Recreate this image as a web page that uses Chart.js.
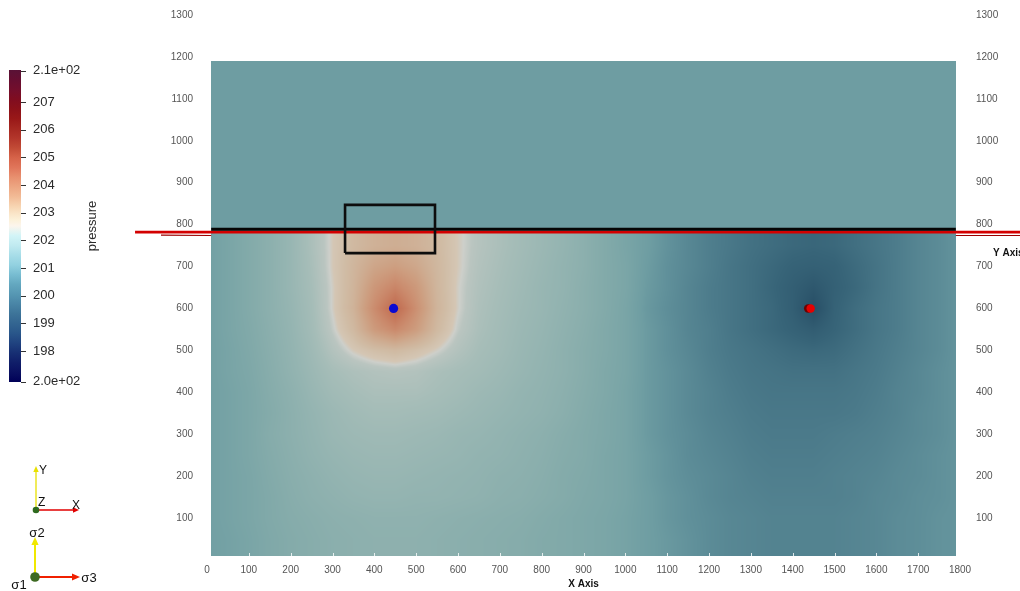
<!DOCTYPE html>
<html>
<head>
<meta charset="utf-8">
<script src="https://cdn.jsdelivr.net/npm/chart.js@4.4.1/dist/chart.umd.min.js"></script>
<style>
  html, body { margin: 0; padding: 0; background: #ffffff; overflow: hidden; }
  #wrap { width: 1020px; height: 591px; position: relative; }
</style>
</head>
<body>
<div id="wrap"><canvas id="c" width="1020" height="591"></canvas></div>
<script>
// ---- axis ticks ----
const xTickValues = [0,100,200,300,400,500,600,700,800,900,1000,1100,1200,1300,1400,1500,1600,1700,1800];
const yTickValues = [0,100,200,300,400,500,600,700,800,900,1000,1100,1200,1300];

// ---- model geometry ----
const domainX = [10, 1790];
const domainY = [10, 1190];
const interfaceY = 789;            // top of the reservoir layer
const upperPressure = 200.3;       // caprock layer pressure

// pressure grid of the reservoir layer (rows bottom -> top)
const gridX = [0,50,100,150,200,250,300,350,400,450,500,550,600,650,700,750,800,850,900,950,1000,
               1050,1100,1150,1200,1250,1300,1350,1400,1450,1500,1550,1600,1650,1700,1750,1800];
const gridY = [0,50,100,150,200,250,300,350,400,450,500,550,600,650,700,750,800];
const pressureY0   = [200.4,200.5,200.65,200.85,201.0,201.1,201.2,201.25,201.3,201.3,201.3,201.25,201.2,201.15,201.1,201.05,200.95,200.9,200.8,200.7,200.55, 200.35,200.2,200.05,199.9,199.8,199.75,199.7,199.7,199.7,199.7,199.75,199.8,199.9,199.95,200.05,200.1];
const pressureY50  = [200.4,200.5,200.65,200.85,201.0,201.1,201.2,201.25,201.3,201.3,201.3,201.25,201.2,201.15,201.1,201.05,200.95,200.9,200.8,200.7,200.55, 200.35,200.2,200.05,199.9,199.8,199.75,199.7,199.7,199.7,199.7,199.75,199.8,199.9,199.95,200.05,200.1];
const pressureY100 = [200.4,200.55,200.7,200.9,201.05,201.15,201.25,201.3,201.35,201.35,201.35,201.3,201.25,201.2,201.15,201.1,201.0,200.9,200.8,200.7,200.55, 200.35,200.15,200.0,199.9,199.8,199.75,199.7,199.7,199.7,199.7,199.75,199.8,199.9,199.95,200.05,200.1];
const pressureY150 = [200.4,200.55,200.7,200.9,201.1,201.25,201.35,201.45,201.5,201.5,201.45,201.45,201.4,201.35,201.25,201.2,201.1,201.0,200.85,200.75,200.6, 200.35,200.15,200.0,199.85,199.75,199.7,199.65,199.65,199.65,199.65,199.7,199.8,199.85,199.95,200.0,200.1];
const pressureY200 = [200.4,200.55,200.7,200.95,201.15,201.3,201.45,201.55,201.6,201.6,201.55,201.5,201.45,201.4,201.3,201.25,201.15,201.0,200.9,200.75,200.6, 200.3,200.1,199.95,199.85,199.75,199.65,199.6,199.6,199.6,199.65,199.7,199.75,199.85,199.9,200.0,200.1];
const pressureY250 = [200.4,200.55,200.75,201.0,201.2,201.4,201.55,201.65,201.7,201.7,201.65,201.6,201.55,201.45,201.4,201.3,201.2,201.05,200.95,200.75,200.6, 200.3,200.1,199.9,199.8,199.7,199.6,199.55,199.55,199.55,199.6,199.65,199.7,199.8,199.9,200.0,200.1];
const pressureY300 = [200.4,200.55,200.75,201.05,201.25,201.45,201.65,201.75,201.8,201.8,201.75,201.7,201.6,201.55,201.45,201.35,201.25,201.1,200.95,200.8,200.6, 200.25,200.05,199.9,199.75,199.65,199.55,199.5,199.5,199.5,199.55,199.6,199.65,199.75,199.85,199.95,200.1];
const pressureY350 = [200.4,200.55,200.75,201.0,201.25,201.5,201.7,201.85,201.95,201.95,201.9,201.85,201.75,201.65,201.55,201.45,201.35,201.2,201.0,200.8,200.6, 200.25,200.05,199.85,199.7,199.6,199.5,199.45,199.45,199.45,199.45,199.5,199.6,199.7,199.85,199.95,200.1];
const pressureY400 = [200.4,200.55,200.75,201.05,201.3,201.6,201.85,202.0,202.1,202.1,202.1,202.0,201.9,201.75,201.65,201.5,201.4,201.25,201.05,200.85,200.6, 200.25,200.05,199.85,199.7,199.55,199.45,199.4,199.4,199.4,199.4,199.45,199.55,199.7,199.8,199.95,200.1];
const pressureY450 = [200.4,200.6,200.8,201.1,201.4,201.7,202.0,202.15,202.25,202.3,202.25,202.1,202.0,201.9,201.75,201.6,201.45,201.3,201.1,200.85,200.65, 200.25,200.05,199.85,199.65,199.5,199.4,199.35,199.3,199.3,199.3,199.4,199.5,199.65,199.8,199.95,200.1];
const pressureY500 = [200.4,200.6,200.85,201.15,201.45,201.8,202.25,202.6,202.85,203.0,202.8,202.55,202.25,202.0,201.85,201.65,201.5,201.3,201.1,200.9,200.65, 200.25,200.0,199.8,199.6,199.45,199.35,199.25,199.15,199.1,199.15,199.3,199.45,199.6,199.75,199.9,200.1];
const pressureY550 = [200.4,200.65,200.9,201.2,201.5,201.9,202.45,203.0,203.9,204.4,203.85,203.0,202.45,202.1,201.9,201.7,201.55,201.35,201.15,200.9,200.65, 200.25,200.0,199.75,199.6,199.4,199.25,199.1,198.95,198.8,199.0,199.2,199.4,199.55,199.75,199.9,200.1];
const pressureY600 = [200.4,200.65,200.95,201.25,201.55,201.95,202.55,203.2,204.3,205.3,204.2,203.15,202.55,202.15,201.95,201.75,201.6,201.4,201.2,200.95,200.65, 200.2,199.95,199.75,199.55,199.4,199.25,199.1,198.85,198.4,198.95,199.2,199.4,199.55,199.75,199.9,200.1];
const pressureY650 = [200.4,200.65,200.95,201.25,201.6,202.0,202.55,203.15,204.0,204.5,203.95,203.1,202.55,202.2,202.0,201.8,201.6,201.45,201.2,200.95,200.7, 200.25,200.0,199.75,199.55,199.4,199.25,199.05,198.85,198.65,198.9,199.1,199.35,199.55,199.75,199.9,200.1];
const pressureY700 = [200.4,200.65,200.95,201.25,201.6,202.05,202.6,203.1,203.6,203.8,203.55,203.05,202.6,202.25,202.05,201.85,201.65,201.45,201.25,200.95,200.7, 200.3,200.0,199.8,199.6,199.4,199.25,199.1,198.95,198.9,198.95,199.15,199.35,199.55,199.75,199.9,200.1];
const pressureY750 = [200.4,200.65,200.95,201.25,201.6,202.1,202.6,203.0,203.25,203.35,203.25,203.0,202.6,202.3,202.1,201.9,201.7,201.5,201.25,200.95,200.65, 200.35,200.05,199.8,199.6,199.45,199.3,199.2,199.1,199.05,199.1,199.25,199.4,199.55,199.75,199.9,200.1];
const pressureY800 = [200.4,200.65,200.95,201.25,201.6,202.1,202.6,203.0,203.25,203.35,203.25,203.0,202.6,202.3,202.1,201.9,201.7,201.5,201.25,200.95,200.65, 200.35,200.05,199.8,199.6,199.45,199.3,199.2,199.1,199.05,199.1,199.25,199.4,199.55,199.75,199.9,200.1];
const pressureRows = [pressureY0,pressureY50,pressureY100,pressureY150,pressureY200,pressureY250,pressureY300,pressureY350,
                      pressureY400,pressureY450,pressureY500,pressureY550,pressureY600,pressureY650,pressureY700,pressureY750,pressureY800];

// ---- overlays ----
const faultTop      = [{x:-172,y:782},{x:2150,y:782}];
const faultEdgeLeft = [{x:-172,y:782},{x:-110,y:775},{x:10,y:774}];
const faultEdgeRight= [{x:1790,y:774},{x:2150,y:774}];
const layerTop      = [{x:10,y:789},{x:1790,y:789}];
const monitorBox    = [{x:330,y:732},{x:545,y:732},{x:545,y:847},{x:330,y:847},{x:330,y:732}];
const injector      = [{x:446,y:600}];
const producerShade = [{x:1437,y:600}];
const producer      = [{x:1443,y:600}];

// ---- colour bar ----
const cbarMin = 196.88, cbarMax = 208.16;
const cbarTicks = [198,199,200,201,202,203,204,205,206,207];
const cbarEndLabels = ['2.0e+02','2.1e+02'];
const cbarTitle = 'pressure';
// Cool to Warm (Extended): position, r, g, b
const coolWarm = [
  [0,0,0,0.34],[0.03125,0.039216,0.062745,0.380392],[0.0625,0.062745,0.117647,0.411765],
  [0.09375,0.090196,0.184314,0.45098],[0.125,0.12549,0.262745,0.501961],[0.15625,0.160784,0.337255,0.541176],
  [0.1875,0.2,0.396078,0.568627],[0.21875,0.239216,0.454902,0.6],[0.25,0.286275,0.521569,0.65098],
  [0.28125,0.337255,0.592157,0.701961],[0.3125,0.388235,0.654902,0.74902],[0.34375,0.466667,0.737255,0.819608],
  [0.375,0.572549,0.819608,0.878431],[0.40625,0.654902,0.866667,0.909804],[0.4375,0.752941,0.917647,0.941176],
  [0.46875,0.823529,0.956863,0.968627],[0.5,0.988235,0.960784,0.929412],[0.52,0.988235,0.945098,0.85098],
  [0.54,0.980392,0.898039,0.784314],[0.5625,0.968627,0.835294,0.698039],[0.59375,0.94902,0.733333,0.588235],
  [0.625,0.929412,0.65098,0.509804],[0.65625,0.909804,0.564706,0.435294],[0.6875,0.878431,0.458824,0.352941],
  [0.71875,0.839216,0.388235,0.286275],[0.75,0.760784,0.294118,0.211765],[0.78125,0.701961,0.211765,0.168627],
  [0.8125,0.65098,0.156863,0.129412],[0.84375,0.6,0.094118,0.094118],[0.875,0.54902,0.066667,0.098039],
  [0.90625,0.501961,0.05098,0.12549],[0.9375,0.45098,0.054902,0.172549],[0.96875,0.4,0.054902,0.192157],
  [1,0.34902,0.070588,0.211765]
];
// shaded (lit) appearance of the same map on the surface
const surfaceStops = [
  [198.0,[30,65,90]],[198.5,[42,82,105]],[199.0,[55,100,120]],[199.5,[75,122,138]],
  [200.0,[96,144,154]],[200.3,[110,157,162]],[200.6,[120,164,166]],[201.0,[132,171,170]],
  [201.5,[148,180,177]],[202.0,[166,189,184]],[202.4,[186,197,192]],[202.52,[205,207,202]],
  [202.62,[212,198,180]],[202.9,[208,188,165]],[203.4,[206,172,145]],[203.8,[205,158,128]],
  [204.3,[203,140,110]],[204.8,[198,122,93]],[205.3,[190,106,80]],[206.0,[175,86,66]]
];

function surfaceColor(v) {
  const s = surfaceStops;
  if (v <= s[0][0]) return s[0][1];
  for (let i = 1; i < s.length; i++) {
    if (v <= s[i][0]) {
      const f = (v - s[i-1][0]) / (s[i][0] - s[i-1][0]);
      const a = s[i-1][1], b = s[i][1];
      return [a[0]+(b[0]-a[0])*f, a[1]+(b[1]-a[1])*f, a[2]+(b[2]-a[2])*f];
    }
  }
  return s[s.length-1][1];
}

function samplePressure(vx, vy) {
  const dx = gridX[1]-gridX[0], dy = gridY[1]-gridY[0];
  let fi = (vx - gridX[0]) / dx, fj = (vy - gridY[0]) / dy;
  fi = Math.max(0, Math.min(gridX.length-1.0001, fi));
  fj = Math.max(0, Math.min(gridY.length-1.0001, fj));
  const i = Math.floor(fi), j = Math.floor(fj), u = fi - i, w = fj - j;
  const r0 = pressureRows[j], r1 = pressureRows[j+1];
  const a = r0[i]*(1-u) + r0[i+1]*u;
  const b = r1[i]*(1-u) + r1[i+1]*u;
  return a*(1-w) + b*w;
}

const fieldPlugin = {
  id: 'pressureField',
  beforeDatasetsDraw(chart) {
    const {ctx, scales} = chart;
    const xs = scales.x, ys = scales.y;
    const px0 = Math.round(xs.getPixelForValue(domainX[0]));
    const px1 = Math.round(xs.getPixelForValue(domainX[1]));
    const pyTop = Math.round(ys.getPixelForValue(domainY[1]));
    const pyMid = Math.round(ys.getPixelForValue(interfaceY));
    const pyBot = Math.round(ys.getPixelForValue(domainY[0]));
    const cu = surfaceColor(upperPressure);
    ctx.save();
    ctx.fillStyle = `rgb(${cu.map(Math.round).join(',')})`;
    ctx.fillRect(px0, pyTop, px1 - px0, pyMid - pyTop);
    const w = px1 - px0, h = pyBot - pyMid;
    const off = document.createElement('canvas');
    off.width = w; off.height = h;
    const octx = off.getContext('2d');
    const img = octx.createImageData(w, h);
    for (let j = 0; j < h; j++) {
      const vy = ys.getValueForPixel(pyMid + j + 0.5);
      for (let i = 0; i < w; i++) {
        const vx = xs.getValueForPixel(px0 + i + 0.5);
        const c = surfaceColor(samplePressure(vx, vy));
        const k = (j*w + i)*4;
        img.data[k] = c[0]; img.data[k+1] = c[1]; img.data[k+2] = c[2]; img.data[k+3] = 255;
      }
    }
    octx.putImageData(img, 0, 0);
    ctx.drawImage(off, px0, pyMid);
    // small white tick marks along the lower edge
    ctx.strokeStyle = 'rgba(255,255,255,0.8)';
    ctx.lineWidth = 1;
    xTickValues.forEach(t => {
      if (t < domainX[0] || t > domainX[1]) return;
      const p = Math.round(xs.getPixelForValue(t)) + 0.5;
      ctx.beginPath(); ctx.moveTo(p, pyBot); ctx.lineTo(p, pyBot - 3); ctx.stroke();
    });
    ctx.restore();
  }
};

function arrow(ctx, x0, y0, x1, y1, color, head, lw) {
  const ang = Math.atan2(y1 - y0, x1 - x0);
  ctx.strokeStyle = color; ctx.fillStyle = color; ctx.lineWidth = lw;
  ctx.beginPath(); ctx.moveTo(x0, y0);
  ctx.lineTo(x1 - Math.cos(ang)*head, y1 - Math.sin(ang)*head); ctx.stroke();
  ctx.beginPath();
  ctx.moveTo(x1, y1);
  ctx.lineTo(x1 - Math.cos(ang)*head - Math.sin(ang)*head*0.45, y1 - Math.sin(ang)*head + Math.cos(ang)*head*0.45);
  ctx.lineTo(x1 - Math.cos(ang)*head + Math.sin(ang)*head*0.45, y1 - Math.sin(ang)*head - Math.cos(ang)*head*0.45);
  ctx.closePath(); ctx.fill();
}

const decorPlugin = {
  id: 'decor',
  afterDraw(chart) {
    const ctx = chart.ctx;
    ctx.save();
    // colour bar
    const bx0 = 9, bx1 = 21, byTop = 70, byBot = 382;
    const grad = ctx.createLinearGradient(0, byBot, 0, byTop);
    coolWarm.forEach(s => grad.addColorStop(s[0], `rgb(${Math.round(s[1]*255)},${Math.round(s[2]*255)},${Math.round(s[3]*255)})`));
    ctx.fillStyle = grad;
    ctx.fillRect(bx0, byTop, bx1 - bx0, byBot - byTop);
    const vToY = v => byBot - (v - cbarMin) / (cbarMax - cbarMin) * (byBot - byTop);
    ctx.strokeStyle = '#333'; ctx.lineWidth = 1;
    ctx.fillStyle = '#2b2b2b';
    ctx.font = '13px "Liberation Sans", Arial, sans-serif';
    ctx.textAlign = 'left'; ctx.textBaseline = 'middle';
    const tickLabel = (y, txt) => {
      ctx.beginPath(); ctx.moveTo(bx1, Math.round(y)+0.5); ctx.lineTo(bx1 + 5, Math.round(y)+0.5); ctx.stroke();
      ctx.fillText(txt, 33, y);
    };
    cbarTicks.forEach(t => tickLabel(vToY(t), String(t)));
    tickLabel(byBot - 0.5, cbarEndLabels[0]);
    tickLabel(byTop + 0.5, cbarEndLabels[1]);
    ctx.save();
    ctx.translate(92, 226); ctx.rotate(-Math.PI/2);
    ctx.textAlign = 'center'; ctx.textBaseline = 'middle';
    ctx.fillText(cbarTitle, 0, 0);
    ctx.restore();

    // right-hand axis name
    ctx.font = 'bold 10px "Liberation Sans", Arial, sans-serif';
    ctx.fillStyle = '#111';
    ctx.textAlign = 'left'; ctx.textBaseline = 'middle';
    ctx.fillText('Y Axis', 993, 253);

    // orientation axes
    arrow(ctx, 36, 510, 36, 466, '#e8e000', 6, 1.3);
    arrow(ctx, 36, 510, 79, 510, '#e00000', 6, 1.3);
    ctx.fillStyle = '#2e6a1e';
    ctx.beginPath(); ctx.arc(36, 510, 3.3, 0, Math.PI*2); ctx.fill();
    ctx.fillStyle = '#111';
    ctx.font = '12px "Liberation Sans", Arial, sans-serif';
    ctx.fillText('Y', 39, 471);
    ctx.fillText('Z', 38, 503);
    ctx.fillText('X', 72, 506);

    arrow(ctx, 35, 577, 35, 537, '#f0e800', 8, 2);
    arrow(ctx, 35, 577, 80, 577, '#f02000', 8, 2);
    ctx.fillStyle = '#3d6a22';
    ctx.beginPath(); ctx.arc(35, 577, 4.8, 0, Math.PI*2); ctx.fill();
    ctx.fillStyle = '#111';
    ctx.font = '13px "Liberation Sans", Arial, sans-serif';
    ctx.textAlign = 'center';
    ctx.fillText('\u03c32', 37, 533);
    ctx.fillText('\u03c33', 89, 578);
    ctx.fillText('\u03c31', 19, 585);
    ctx.restore();
  }
};

const tickFont = { family: '"Liberation Sans", Arial, sans-serif', size: 10 };
const plainLabel = v => String(v);
const hideZero = v => (v === 0 ? '' : String(v));
// side axes: keep the horizontal label gap from reserving vertical room
const sideFit = width => s => { s.width = width; s.paddingTop = 6; s.paddingBottom = 6; };

new Chart(document.getElementById('c'), {
  type: 'line',
  data: {
    datasets: [
      { type: 'scatter', data: producer, pointRadius: 4.2, pointBackgroundColor: '#e60000', pointBorderWidth: 0, order: 0 },
      { type: 'scatter', data: producerShade, pointRadius: 4.2, pointBackgroundColor: '#6e0000', pointBorderWidth: 0, order: 1 },
      { type: 'scatter', data: injector, pointRadius: 4.6, pointBackgroundColor: '#0a0ad2', pointBorderWidth: 0, order: 0 },
      { data: monitorBox, borderColor: '#0d0d0d', borderWidth: 2.6, pointRadius: 0, tension: 0, fill: false, order: 2 },
      { data: layerTop, borderColor: '#050505', borderWidth: 3.2, pointRadius: 0, fill: false, order: 3 },
      { data: faultTop, borderColor: '#d30000', borderWidth: 2.8, pointRadius: 0, fill: false, clip: false, order: 4 },
      { data: faultEdgeLeft, borderColor: '#9a0000', borderWidth: 1.2, pointRadius: 0, fill: false, clip: false, order: 5 },
      { data: faultEdgeRight, borderColor: '#9a0000', borderWidth: 1.2, pointRadius: 0, fill: false, clip: false, order: 5 }
    ]
  },
  options: {
    animation: false,
    responsive: false,
    events: [],
    layout: { padding: { top: 15, left: 0, right: 0, bottom: 0 } },
    plugins: { legend: { display: false }, tooltip: { enabled: false } },
    scales: {
      x: {
        type: 'linear', min: 0, max: 1800,
        grid: { display: false, drawTicks: false }, border: { display: false },
        afterBuildTicks: s => { s.ticks = xTickValues.map(v => ({ value: v })); },
        ticks: { color: '#555', font: tickFont, padding: 4, maxRotation: 0, autoSkip: false, callback: plainLabel },
        title: { display: true, text: 'X Axis', color: '#111', font: { family: '"Liberation Sans", Arial, sans-serif', size: 10, weight: 'bold' }, padding: { top: 0, bottom: 1 } },
        afterFit: s => { s.height = 31; }
      },
      y: {
        type: 'linear', min: 0, max: 1300, position: 'left',
        grid: { display: false, drawTicks: false }, border: { display: false },
        afterBuildTicks: s => { s.ticks = yTickValues.map(v => ({ value: v })); },
        ticks: { color: '#555', font: tickFont, padding: 14, autoSkip: false, callback: hideZero },
        afterFit: sideFit(207)
      },
      y2: {
        type: 'linear', axis: 'y', min: 0, max: 1300, position: 'right',
        grid: { display: false, drawTicks: false }, border: { display: false },
        afterBuildTicks: s => { s.ticks = yTickValues.map(v => ({ value: v })); },
        ticks: { color: '#555', font: tickFont, padding: 16, autoSkip: false, callback: hideZero },
        afterFit: sideFit(60)
      }
    }
  },
  plugins: [fieldPlugin, decorPlugin]
});
</script>
</body>
</html>
